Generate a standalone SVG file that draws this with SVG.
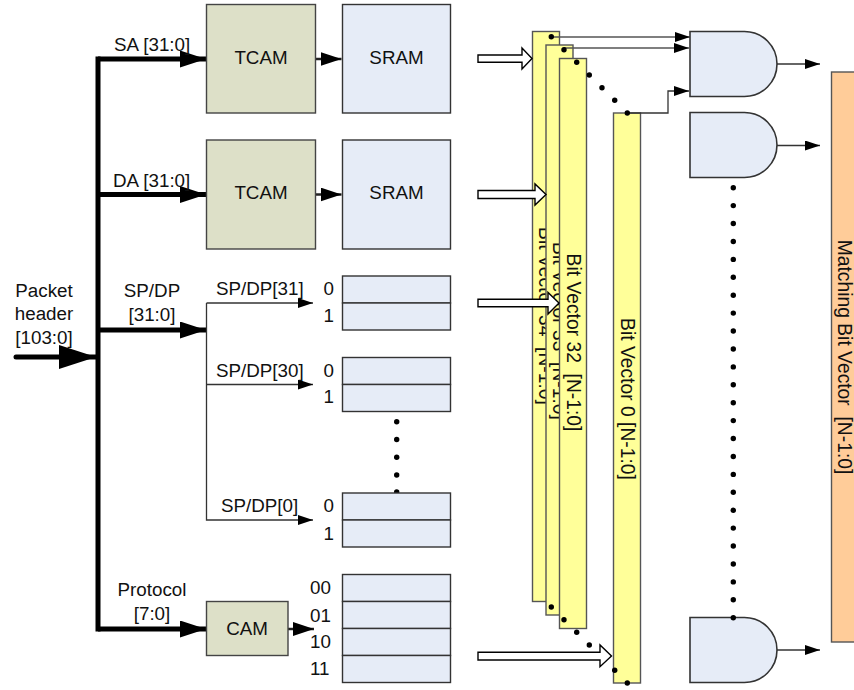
<svg xmlns="http://www.w3.org/2000/svg" width="854" height="690" viewBox="0 0 854 690">
<defs>
<marker id="xl" markerUnits="userSpaceOnUse" markerWidth="37" markerHeight="24" refX="37" refY="12" orient="auto"><path d="M0 0L37 12L0 24Z" fill="#000"/></marker>
<marker id="lg" markerUnits="userSpaceOnUse" markerWidth="26" markerHeight="17" refX="26" refY="8.500" orient="auto"><path d="M0 0L26 8.500L0 17Z" fill="#000"/></marker>
<marker id="md" markerUnits="userSpaceOnUse" markerWidth="21" markerHeight="14" refX="21" refY="7" orient="auto"><path d="M0 0L21 7L0 14Z" fill="#000"/></marker>
<marker id="sm" markerUnits="userSpaceOnUse" markerWidth="15" markerHeight="10" refX="15" refY="5" orient="auto"><path d="M0 0L15 5L0 10Z" fill="#000"/></marker>
</defs>
<style>
text{font-family:"Liberation Sans",Arial,sans-serif;font-size:18.800px;fill:#111}
.m{text-anchor:middle}
.v{font-size:19.300px;white-space:pre}
.t{fill:#dde0c8;stroke:#444;stroke-width:1.4}
.s{fill:#e6ecf7;stroke:#333;stroke-width:1.4}
.b{fill:#ffff99;stroke:#555;stroke-width:1.4}
.g{fill:#e6ecf7;stroke:#333;stroke-width:1.6}
.w{fill:#fff;stroke:#000;stroke-width:1.4}
.th{fill:none;stroke:#000;stroke-width:5}
.tn{fill:none;stroke:#333;stroke-width:1.3}
.md{fill:none;stroke:#222;stroke-width:2.500}
.d{fill:#000}
</style>

<g id="bitvector-34">
<rect class="b" x="532.500" y="31.500" width="27" height="570"/>
<text class="m v" transform="translate(539 316) rotate(90)">Bit Vector 34  [N-1:0]</text>
</g>
<g id="bitvector-33">
<rect class="b" x="546" y="45" width="27" height="570"/>
<text class="m v" transform="translate(553 331) rotate(90)">Bit Vector 33  [N-1:0]</text>
</g>
<g id="bitvector-32">
<rect class="b" x="559.500" y="58.500" width="27" height="570"/>
<text class="m v" transform="translate(566.500 342.500) rotate(90)">Bit Vector 32  [N-1:0]</text>
</g>
<g id="bitvector-0">
<rect class="b" x="613.500" y="113" width="27" height="570"/>
<text class="m v" transform="translate(621 399) rotate(90)">Bit Vector 0 [N-1:0]</text>
</g>

<g id="connectors">
<path class="th" d="M98 59V629" stroke-linecap="square"/>
<path class="th" d="M98 59H206" marker-end="url(#lg)"/>
<path class="th" d="M98 194.500H206" stroke-width="4" marker-end="url(#lg)"/>
<path class="th" d="M98 330H206" stroke-width="4.500" marker-end="url(#lg)"/>
<path class="th" d="M98 629H206" marker-end="url(#lg)"/>
<path class="th" d="M16 357H96" stroke-width="6.500" stroke-linecap="round" marker-end="url(#xl)"/>
<path class="tn" d="M206.500 303H313" marker-end="url(#sm)"/>
<path class="tn" d="M206.500 303V520H313" marker-end="url(#sm)"/>
<path class="tn" d="M206.500 384.500H313" marker-end="url(#sm)"/>
<path class="md" d="M315 59H341.500" marker-end="url(#md)"/>
<path class="md" d="M315 194.500H341.500" marker-end="url(#md)"/>
<path class="md" d="M288 629H314" marker-end="url(#md)"/>
<path class="tn" d="M551 37H690" stroke-width="1.600" style="stroke:#555" marker-end="url(#sm)"/>
<path class="tn" d="M564 48H689" stroke-width="1.600" style="stroke:#555" marker-end="url(#sm)"/>
<path class="tn" d="M627 113H668V91H689" marker-end="url(#sm)"/>
<path class="tn" d="M777 64H820" marker-end="url(#sm)"/>
<path class="tn" d="M777 145.500H820" marker-end="url(#sm)"/>
<path class="tn" d="M777 650H820" marker-end="url(#sm)"/>
<path class="w" d="M478 55H522V48L532 58.500L522 69V62.300H478Z"/>
<path class="w" d="M478 190.500H535V184L546 194.500L535 205V198.500H478Z"/>
<path class="w" d="M478 299.300H548V292.500L559 303L548 314V306.700H478Z"/>
<path class="w" d="M478 652.300H600V645L611.500 656L600 666.700V660H478Z"/>
</g>

<g id="dots-behind" class="d"><circle cx="396.700" cy="492" r="2.700"/></g>

<g id="tcam-1"><rect class="t" x="206.500" y="4.500" width="109" height="108.500"/><text class="m" x="261" y="64">TCAM</text></g>
<g id="sram-1"><rect class="s" x="342.500" y="4.500" width="108" height="108.500"/><text class="m" x="396.500" y="64">SRAM</text></g>
<g id="tcam-2"><rect class="t" x="206.500" y="140" width="109" height="109"/><text class="m" x="261" y="199">TCAM</text></g>
<g id="sram-2"><rect class="s" x="342.500" y="140" width="108" height="109"/><text class="m" x="396.500" y="199">SRAM</text></g>
<g id="cam"><rect class="t" x="206.500" y="601.500" width="81.500" height="54"/><text class="m" x="247" y="635">CAM</text></g>

<g id="table-31"><rect class="s" x="342.500" y="276" width="108" height="27"/><rect class="s" x="342.500" y="303" width="108" height="27"/></g>
<g id="table-30"><rect class="s" x="342.500" y="357.500" width="108" height="27"/><rect class="s" x="342.500" y="384.500" width="108" height="27"/></g>
<g id="table-0"><rect class="s" x="342.500" y="493" width="108" height="27"/><rect class="s" x="342.500" y="520" width="108" height="27"/></g>
<g id="table-protocol"><rect class="s" x="342.500" y="574.500" width="108" height="27"/><rect class="s" x="342.500" y="601.500" width="108" height="27"/><rect class="s" x="342.500" y="628.500" width="108" height="27"/><rect class="s" x="342.500" y="655.500" width="108" height="27"/></g>

<g id="and-1"><path class="g" d="M690 31.500H744.500A32.500 32.500 0 0 1 744.500 96.500H690Z"/></g>
<g id="and-2"><path class="g" d="M690 112.500H744.500A32.500 32.500 0 0 1 744.500 177.500H690Z"/></g>
<g id="and-3"><path class="g" d="M690 617.500H744.500A32.500 32.500 0 0 1 744.500 682.500H690Z"/></g>

<g id="matching"><rect x="831.500" y="72" width="30" height="570" fill="#ffcc99" stroke="#555" stroke-width="1.4"/>
<text class="m v" transform="translate(838 357) rotate(90)">Matching Bit Vector  [N-1:0]</text></g>

<g id="labels">
<text x="114" y="51">SA [31:0]</text>
<text x="113" y="187">DA [31:0]</text>
<text class="m" x="44" y="297">Packet</text>
<text class="m" x="44" y="320">header</text>
<text class="m" x="44" y="344">[103:0]</text>
<text class="m" x="152" y="297">SP/DP</text>
<text class="m" x="152" y="321">[31:0]</text>
<text x="216" y="295">SP/DP[31]</text>
<text x="216" y="377">SP/DP[30]</text>
<text x="221" y="512">SP/DP[0]</text>
<text class="m" x="152" y="596">Protocol</text>
<text class="m" x="152" y="620">[7:0]</text>
<text x="323.500" y="295">0</text><text x="323.500" y="322">1</text>
<text x="323.500" y="377">0</text><text x="323.500" y="403">1</text>
<text x="323.500" y="512">0</text><text x="323.500" y="540">1</text>
<text x="310" y="594">00</text><text x="310" y="622">01</text><text x="310" y="648">10</text><text x="310" y="675">11</text>
</g>

<g id="dots" class="d">
<circle cx="551.300" cy="36.700" r="2.700"/><circle cx="564" cy="49.700" r="2.700"/><circle cx="576.700" cy="62.300" r="2.700"/><circle cx="589.300" cy="75" r="2.700"/><circle cx="602" cy="87.700" r="2.700"/><circle cx="614.700" cy="100.300" r="2.700"/><circle cx="627.300" cy="113" r="2.700"/>
<circle cx="551.300" cy="607" r="2.700"/><circle cx="564" cy="619.700" r="2.700"/><circle cx="576.700" cy="632.300" r="2.700"/><circle cx="589.300" cy="645" r="2.700"/><circle cx="614.700" cy="670.300" r="2.700"/><circle cx="627.300" cy="683" r="2.700"/>
<circle cx="396.700" cy="421.700" r="2.700"/><circle cx="396.700" cy="439.500" r="2.700"/><circle cx="396.700" cy="457.300" r="2.700"/><circle cx="396.700" cy="475" r="2.700"/>
<circle cx="733.300" cy="187.700" r="2.700"/><circle cx="733.300" cy="205.600" r="2.700"/><circle cx="733.300" cy="223.500" r="2.700"/><circle cx="733.300" cy="241.500" r="2.700"/><circle cx="733.300" cy="259.400" r="2.700"/><circle cx="733.300" cy="277.300" r="2.700"/><circle cx="733.300" cy="295.200" r="2.700"/><circle cx="733.300" cy="313.100" r="2.700"/><circle cx="733.300" cy="331" r="2.700"/><circle cx="733.300" cy="349" r="2.700"/><circle cx="733.300" cy="366.900" r="2.700"/><circle cx="733.300" cy="384.800" r="2.700"/><circle cx="733.300" cy="402.700" r="2.700"/><circle cx="733.300" cy="420.600" r="2.700"/><circle cx="733.300" cy="438.500" r="2.700"/><circle cx="733.300" cy="456.500" r="2.700"/><circle cx="733.300" cy="474.400" r="2.700"/><circle cx="733.300" cy="492.300" r="2.700"/><circle cx="733.300" cy="510.200" r="2.700"/><circle cx="733.300" cy="528.100" r="2.700"/><circle cx="733.300" cy="546" r="2.700"/><circle cx="733.300" cy="564" r="2.700"/><circle cx="733.300" cy="581.900" r="2.700"/><circle cx="733.300" cy="599.800" r="2.700"/><circle cx="733.300" cy="617.700" r="2.700"/>
</g>
</svg>
